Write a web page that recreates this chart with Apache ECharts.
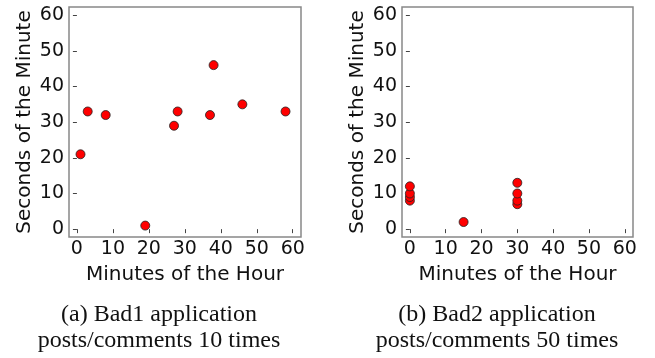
<!DOCTYPE html>
<html>
<head>
<meta charset="utf-8">
<script src="https://cdn.jsdelivr.net/npm/echarts@6/dist/echarts.min.js"></script>
<style>
  html, body { margin: 0; padding: 0; background: #fff; }
  #chart { width: 655px; height: 358px; }
</style>
</head>
<body>
<div id="chart"></div>
<script>
// Bad1: minute of the hour vs second of the minute for each post/comment
const bad1Minutes = [1, 3, 8, 19, 27, 28, 37, 38, 46, 58];
const bad1Seconds = [21, 33, 32, 1, 29, 33, 32, 46, 35, 33];

// Bad2: timestamps collapse onto a few minute marks
const bad2Minutes = [0, 0, 0, 0, 15, 30, 30, 30, 30];
const bad2Seconds = [8, 9, 10, 12, 2, 7, 8, 10, 13];

const tickValues = [0, 10, 20, 30, 40, 50, 60];
const xTitle = 'Minutes of the Hour';
const yTitle = 'Seconds of the Minute';
const captionA = ['(a) Bad1 application', 'posts/comments 10 times'];
const captionB = ['(b) Bad2 application', 'posts/comments 50 times'];

const pairs = (xs, ys) => xs.map((x, i) => [x, ys[i]]);

const sans = 'DejaVu Sans';
const serif = 'Liberation Serif';

function makeAxis(gridIndex, name, isX) {
  return {
    type: 'value',
    gridIndex: gridIndex,
    min: -2.2,
    max: 62.3,
    name: name,
    nameLocation: 'middle',
    nameGap: isX ? 28 : 34,
    nameTextStyle: { fontFamily: sans, fontSize: 20, color: '#111' },
    axisLine: { show: false },
    splitLine: { show: false },
    axisTick: {
      show: true, length: 4, inside: false,
      customValues: tickValues,
      lineStyle: { color: '#444', width: 1 }
    },
    axisLabel: {
      customValues: tickValues,
      fontFamily: sans, fontSize: 19, color: '#111',
      margin: isX ? 3 : 5
    }
  };
}

const grids = [
  { left: 69, top: 7, width: 232, height: 230 },
  { left: 402, top: 7, width: 231, height: 230 }
];

const markerStyle = { color: '#ff0000', opacity: 1, borderColor: '#222', borderWidth: 0.8 };

// two-line serif caption under each panel
function caption(cx, lines) {
  return lines.map((line, i) => ({
    type: 'text',
    style: {
      x: cx, y: 303 + i * 26,
      text: line, fontFamily: serif, fontSize: 24, fill: '#111',
      align: 'center', verticalAlign: 'top'
    }
  }));
}

const option = {
  animation: false,
  backgroundColor: '#ffffff',
  grid: grids.map(g => Object.assign({ show: true, borderColor: '#888', borderWidth: 1.5, backgroundColor: 'transparent' }, g)),
  xAxis: [makeAxis(0, xTitle, true), makeAxis(1, xTitle, true)],
  yAxis: [makeAxis(0, yTitle, false), makeAxis(1, yTitle, false)],
  series: [
    { type: 'scatter', xAxisIndex: 0, yAxisIndex: 0, symbolSize: 9,
      itemStyle: markerStyle, data: pairs(bad1Minutes, bad1Seconds) },
    { type: 'scatter', xAxisIndex: 1, yAxisIndex: 1, symbolSize: 9,
      itemStyle: markerStyle, data: pairs(bad2Minutes, bad2Seconds) }
  ],
  graphic: caption(159, captionA).concat(caption(497, captionB))
};

const chart = echarts.init(document.getElementById('chart'), null, { renderer: 'canvas' });
chart.setOption(option);
</script>
</body>
</html>
